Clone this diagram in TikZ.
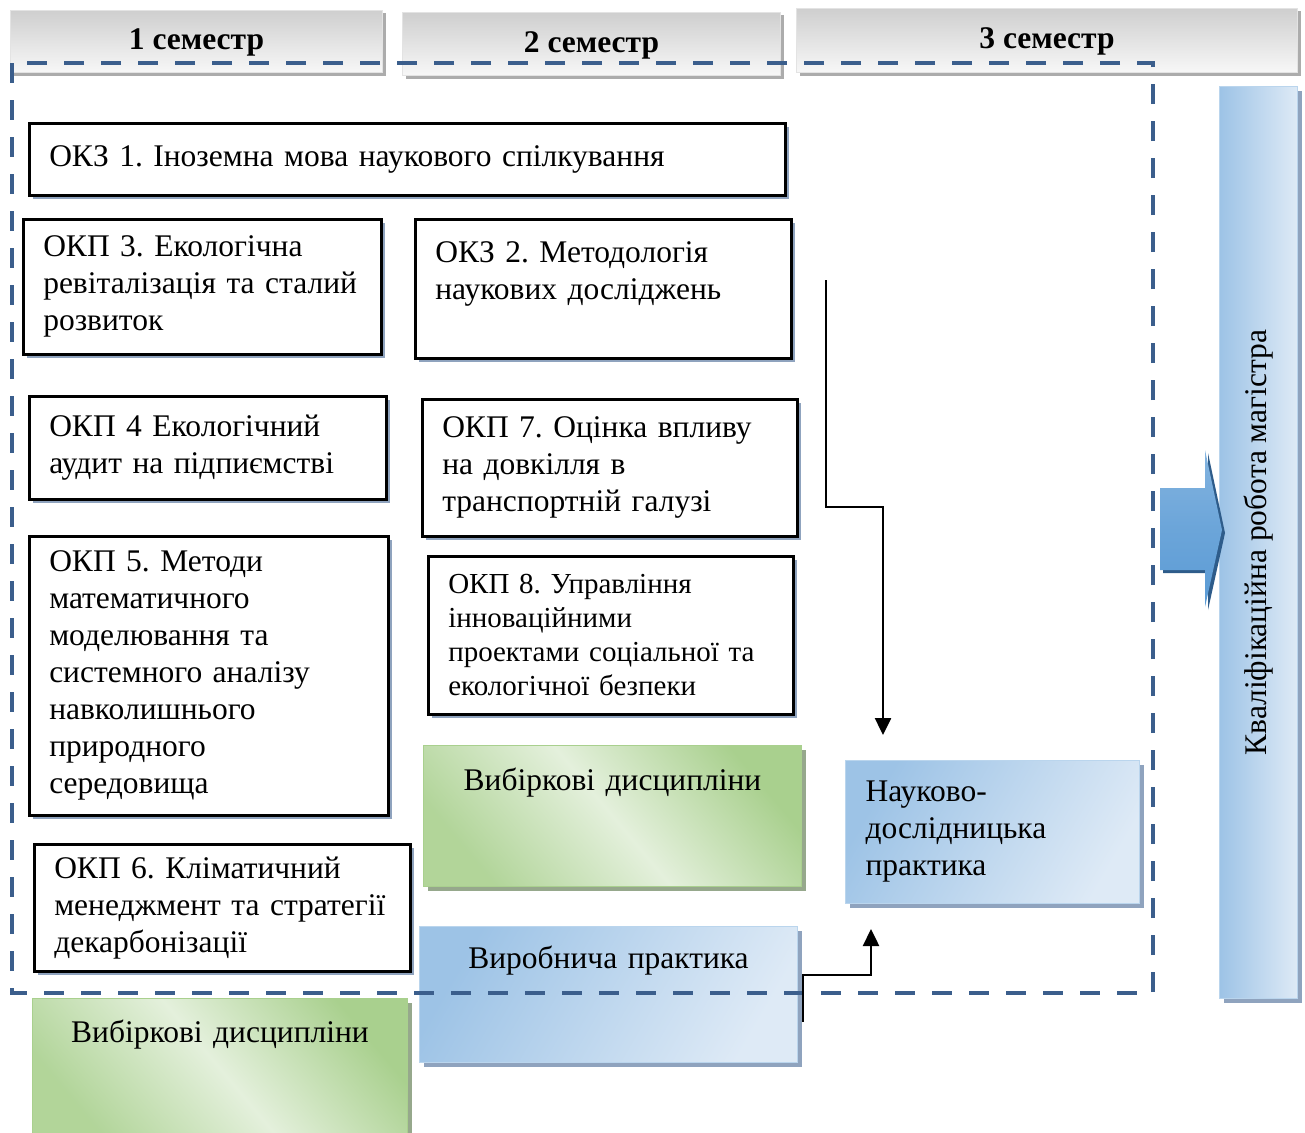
\documentclass[tikz,border=0pt]{standalone}
\usepackage{fontspec}
\setmainfont{Liberation Serif}
\usepackage{xcolor}
\usepackage{tikz}
\usetikzlibrary{shadows,arrows.meta}
\frenchspacing

\definecolor{framecol}{RGB}{59,94,140}
\definecolor{boxshadow}{RGB}{143,163,190}
\definecolor{greendark}{RGB}{169,208,142}
\definecolor{greenlight}{RGB}{228,240,220}
\definecolor{greenshadow}{RGB}{150,168,140}
\definecolor{bluedark}{RGB}{157,195,230}
\definecolor{bluelight}{RGB}{222,234,246}
\definecolor{arrowblue}{RGB}{91,155,213}
\definecolor{arrowdark}{RGB}{46,92,138}

\begin{document}
\begin{tikzpicture}[x=1pt,y=-1pt,
every node/.style={anchor=north west},
txt/.style={font=\fontsize{31.5}{37}\selectfont},
semhead/.style={top color=gray!38,bottom color=gray!6,draw=gray!22,line width=1pt,
  drop shadow={shadow xshift=3pt,shadow yshift=-3pt,opacity=1,fill=gray!65}},
semtext/.style={anchor=center,font=\fontsize{31.5}{37}\selectfont\bfseries},
kbox/.style={txt,draw=black,line width=2.5pt,fill=white,align=left,
  inner xsep=20pt,inner ysep=0pt,
  drop shadow={shadow xshift=4pt,shadow yshift=-4pt,opacity=1,fill=boxshadow}},
greenbox/.style={txt,align=center,inner xsep=20pt,inner ysep=0pt,
  top color=greendark,bottom color=greendark!90!white,middle color=greenlight,
  shading angle=-50,draw=greendark,line width=1pt,
  drop shadow={shadow xshift=4pt,shadow yshift=-4pt,opacity=1,fill=greenshadow}},
bluebox/.style={txt,inner xsep=20pt,inner ysep=0pt,
  left color=bluedark,right color=bluelight,draw=bluedark!70!white,line width=1pt,
  drop shadow={shadow xshift=4pt,shadow yshift=-4pt,opacity=1,fill=boxshadow}},
flow/.style={line width=2.5pt,-{Triangle[length=17pt,width=16pt]}}
]
\useasboundingbox (0,0) rectangle (1305,1132);

% semester headers
\node[semhead,minimum width=372pt,minimum height=62pt] (sem1) at (10,10) {};
\node[semhead,minimum width=378pt,minimum height=63pt] (sem2) at (402,12) {};
\node[semhead,minimum width=501pt,minimum height=64pt] (sem3) at (796,8) {};
\node[semtext] (sem1t) at ([yshift=-1pt]sem1.center) {1 семестр};
\node[semtext] (sem2t) at ([yshift=-1pt]sem2.center) {2 семестр};
\node[semtext] (sem3t) at ([yshift=-1pt]sem3.center) {3 семестр};

% disciplines
\node[kbox,minimum width=756pt,minimum height=72pt,text width=716pt] (okz1) at (28,122)
  {ОКЗ 1. Іноземна мова наукового спілкування};
\node[kbox,minimum width=358pt,minimum height=135pt,text width=318pt] (okp3) at (22,218)
  {ОКП 3. Екологічна\\\mbox{ревіталізація та сталий}\\розвиток};
\node[kbox,minimum width=376pt,minimum height=139pt,text width=336pt] (okz2) at (414,218)
  {ОКЗ 2. Методологія\\наукових досліджень\\\mbox{}};
\node[kbox,minimum width=357pt,minimum height=103pt,text width=317pt] (okp4) at (28,395)
  {ОКП 4 Екологічний\\аудит на підпиємстві};
\node[kbox,minimum width=375pt,minimum height=137pt,text width=335pt] (okp7) at (421,398)
  {ОКП 7. Оцінка впливу\\на довкілля в\\транспортній галузі};
\node[kbox,minimum width=359pt,minimum height=279pt,text width=319pt] (okp5) at (28,535)
  {ОКП 5. Методи\\математичного\\моделювання та\\системного аналізу\\навколишнього\\природного\\середовища};
\node[kbox,font=\fontsize{29}{34}\selectfont,minimum width=365pt,minimum height=158pt,text width=325pt] (okp8) at (427,555)
  {ОКП 8. Управління\\інноваційними\\\mbox{проектами соціальної та}\\екологічної безпеки};
\node[kbox,minimum width=376pt,minimum height=127pt,text width=336pt] (okp6) at (33,843)
  {ОКП 6. Кліматичний\\\mbox{менеджмент та стратегії}\\декарбонізації};

% electives and practice
\node[greenbox,minimum width=378pt,minimum height=141pt,text width=338pt] (vyb2) at (423,745)
  {Вибіркові дисципліни\\\mbox{}\\\mbox{}};
\node[greenbox,minimum width=375pt,minimum height=140pt,text width=335pt] (vyb1) at (32,998)
  {Вибіркові дисципліни\\\mbox{}\\\mbox{}};
\node[bluebox,align=center,shading angle=60,minimum width=378pt,minimum height=136pt,text width=338pt] (vyrob) at (419,926)
  {Виробнича практика\\\mbox{}\\\mbox{}};
\node[bluebox,align=left,shading angle=60,minimum width=294pt,minimum height=143pt,text width=254pt] (nauk) at (845,760)
  {Науково-\\дослідницька\\практика};
\node[bluebox,minimum width=78pt,minimum height=912pt] (kval) at (1219,86) {};
\node[txt,anchor=center,rotate=90] (kvalt) at (kval.center) {Кваліфікаційна робота магістра};

% frame of the first year
\draw[framecol,line width=4pt,dash pattern=on 20pt off 17pt] (12,63) rectangle (1153,993);

% big arrow to the thesis
\fill[arrowdark] (1163,491) -- (1208,491) -- (1208,453) -- (1225,533) -- (1208,610) -- (1208,573) -- (1163,573) -- cycle;
\shade[top color=arrowblue!75!white,bottom color=arrowblue,middle color=arrowblue!90!white]
  (1160,488) -- (1205,488) -- (1205,450) -- (1222,530) -- (1205,607) -- (1205,570) -- (1160,570) -- cycle;

% connectors
\coordinate (a1s) at (826,280);
\coordinate (a1m) at (883,507);
\draw[flow,shorten >=25pt] (a1s) |- (a1m) -- (a1m |- nauk.north);
\coordinate (a2s) at (803,1022);
\coordinate (a2m) at (871,975);
\draw[flow,shorten >=25pt] (a2s) |- (a2m) -- (a2m |- nauk.south);
\end{tikzpicture}
\end{document}
